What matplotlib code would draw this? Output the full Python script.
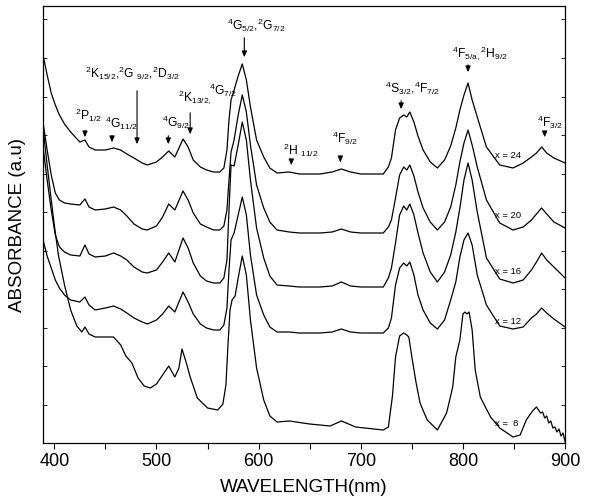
import matplotlib
matplotlib.use("Agg")
import matplotlib.pyplot as plt
from matplotlib.ticker import MultipleLocator

plt.rcParams["font.family"] = ["Liberation Sans", "DejaVu Sans"]
plt.rcParams["mathtext.fontset"] = "custom"
plt.rcParams["mathtext.rm"] = "Liberation Sans"
plt.rcParams["mathtext.it"] = "Liberation Sans"

# wavelength grid (nm) shared by x = 24, 20, 16, 12
wl = [389, 393, 397, 401, 405, 410, 416, 425, 430, 434, 440, 450, 458, 465, 471, 478, 486, 491, 500, 506,
      512, 518, 526, 531, 536, 543, 549, 556, 562, 566, 569, 571, 573, 576, 580, 584, 588, 592, 598, 605,
      611, 618, 630, 640, 660, 672, 681, 690, 700, 722, 727, 730, 734, 738, 742, 745, 748, 752, 756, 761,
      768, 775, 782, 788, 793, 797, 801, 805, 809, 814, 823, 836, 849, 859, 867, 872, 877, 882, 889, 900]

abs_24 = [3.88, 3.68, 3.50, 3.38, 3.28, 3.19, 3.11, 3.01, 3.03, 2.96, 2.93, 2.93, 2.95, 2.93, 2.89, 2.85, 2.80, 2.78, 2.81, 2.86,
          2.92, 2.86, 3.04, 2.96, 2.83, 2.76, 2.73, 2.71, 2.71, 2.75, 2.93, 3.23, 3.43, 3.53, 3.67, 3.79, 3.63, 3.36, 3.03, 2.86,
          2.75, 2.70, 2.71, 2.69, 2.69, 2.71, 2.74, 2.71, 2.69, 2.69, 2.76, 2.85, 3.13, 3.25, 3.28, 3.26, 3.31, 3.21, 3.07, 2.93,
          2.81, 2.75, 2.83, 2.97, 3.15, 3.33, 3.48, 3.60, 3.43, 3.26, 2.96, 2.78, 2.75, 2.80, 2.86, 2.90, 2.96, 2.90, 2.85, 2.80]
abs_20 = [3.20, 2.93, 2.68, 2.50, 2.43, 2.40, 2.39, 2.38, 2.44, 2.36, 2.33, 2.34, 2.36, 2.33, 2.27, 2.19, 2.14, 2.13, 2.17, 2.26,
          2.39, 2.33, 2.52, 2.43, 2.30, 2.19, 2.16, 2.13, 2.13, 2.17, 2.33, 2.63, 2.91, 3.03, 3.28, 3.48, 3.31, 2.98, 2.58, 2.35,
          2.21, 2.13, 2.11, 2.10, 2.10, 2.11, 2.14, 2.11, 2.10, 2.10, 2.16, 2.23, 2.45, 2.68, 2.76, 2.73, 2.78, 2.67, 2.51, 2.35,
          2.21, 2.13, 2.21, 2.36, 2.58, 2.81, 3.00, 3.13, 2.98, 2.76, 2.43, 2.20, 2.13, 2.16, 2.23, 2.29, 2.35, 2.29, 2.21, 2.15]
abs_16 = [2.96, 2.63, 2.33, 2.08, 1.96, 1.91, 1.88, 1.87, 1.98, 1.89, 1.86, 1.87, 1.90, 1.87, 1.83, 1.76, 1.71, 1.70, 1.73, 1.81,
          1.90, 1.81, 2.05, 1.95, 1.80, 1.67, 1.62, 1.60, 1.60, 1.65, 1.83, 2.33, 2.78, 2.77, 2.98, 3.21, 3.03, 2.63, 2.15, 1.85,
          1.67, 1.58, 1.57, 1.56, 1.56, 1.57, 1.61, 1.57, 1.56, 1.56, 1.65, 1.75, 2.00, 2.28, 2.37, 2.33, 2.39, 2.28, 2.10, 1.90,
          1.71, 1.61, 1.71, 1.88, 2.11, 2.35, 2.63, 2.80, 2.63, 2.31, 1.85, 1.64, 1.60, 1.63, 1.73, 1.81, 1.90, 1.83, 1.76, 1.65]
abs_12 = [2.03, 1.87, 1.75, 1.63, 1.55, 1.48, 1.43, 1.41, 1.46, 1.38, 1.33, 1.35, 1.37, 1.34, 1.30, 1.25, 1.21, 1.19, 1.23, 1.29,
          1.37, 1.31, 1.51, 1.41, 1.29, 1.19, 1.15, 1.13, 1.13, 1.18, 1.35, 1.73, 2.03, 2.10, 2.28, 2.46, 2.28, 1.88, 1.48, 1.28,
          1.16, 1.11, 1.11, 1.10, 1.10, 1.11, 1.14, 1.11, 1.10, 1.10, 1.15, 1.25, 1.58, 1.75, 1.80, 1.77, 1.81, 1.68, 1.48, 1.33,
          1.20, 1.14, 1.23, 1.43, 1.61, 1.86, 2.03, 2.10, 1.98, 1.68, 1.38, 1.17, 1.14, 1.16, 1.25, 1.29, 1.35, 1.30, 1.24, 1.16]

# x = 8 has its own grid (split 4F5/2 top, noisy tail)
wl_8 = [389, 393, 397, 400, 404, 410, 416, 422, 427, 430, 434, 440, 450, 458, 465, 470, 476, 482, 488, 494,
        500, 504, 508, 512, 518, 522, 525, 529, 533, 540, 550, 560, 565, 568, 570, 572, 574, 577, 580, 584,
        588, 592, 598, 605, 611, 618, 630, 650, 670, 681, 695, 722, 727, 731, 734, 738, 742, 745, 747, 750,
        754, 758, 765, 775, 784, 790, 793, 797, 800, 802, 804, 806, 809, 812, 817, 827, 836, 849, 856, 862,
        866, 869, 872, 874, 876, 878, 880, 882, 884, 886, 888, 890, 892, 894, 896, 898, 900]
abs_8 = [3.15, 2.78, 2.43, 2.18, 1.88, 1.58, 1.33, 1.17, 1.11, 1.16, 1.09, 1.06, 1.06, 1.06, 0.98, 0.87, 0.80, 0.65, 0.57, 0.55,
         0.59, 0.65, 0.71, 0.77, 0.66, 0.75, 0.94, 0.81, 0.66, 0.45, 0.35, 0.33, 0.39, 0.58, 0.98, 1.33, 1.43, 1.47, 1.65, 1.87,
         1.68, 1.23, 0.75, 0.43, 0.27, 0.21, 0.22, 0.19, 0.17, 0.22, 0.16, 0.13, 0.16, 0.47, 0.86, 1.07, 1.10, 1.08, 1.06, 0.86,
         0.61, 0.40, 0.23, 0.13, 0.30, 0.56, 0.86, 1.03, 1.29, 1.31, 1.29, 1.31, 1.13, 0.73, 0.46, 0.26, 0.15, 0.06, 0.08, 0.23,
         0.29, 0.33, 0.36, 0.33, 0.30, 0.31, 0.25, 0.27, 0.20, 0.22, 0.15, 0.16, 0.11, 0.14, 0.07, 0.10, 0.01]

series = [(wl, abs_24), (wl, abs_20), (wl, abs_16), (wl, abs_12), (wl_8, abs_8)]
curve_labels = ["x = 24", "x = 20", "x = 16", "x = 12", "x =  8"]
label_pos = [(844, 2.88), (844, 2.27), (844, 1.72), (844, 1.22), (843, 0.20)]

# transition labels: text, text position, arrow wavelength, arrow top, arrow tip
bands = [
    (r"$^{2}$P$_{1/2}$", (420, 3.28), 430, 3.15, 3.03),
    (r"$^{4}$G$_{11/2}$", (450, 3.20), 456.5, 3.10, 2.98),
    (r"$^{2}$K$_{15/2}$,$^{2}$G $_{9/2}$,$^{2}$D$_{3/2}$", (430, 3.70), 481, 3.55, 2.96),
    (r"$^{4}$G$_{9/2}$", (505.5, 3.21), 511.6, 3.10, 2.96),
    (r"$^{2}$K$_{13/2,}$", (521, 3.46), 533, 3.33, 3.06),
    (r"$^{4}$G$_{5/2}$,$^{2}$G$_{7/2}$", (569, 4.18), 586, 4.08, 3.83),
    (r"$^{2}$H $_{11/2}$", (624, 2.93), 632, 2.85, 2.75),
    (r"$^{4}$F$_{9/2}$", (672, 3.05), 680, 2.86, 2.78),
    (r"$^{4}$S$_{3/2}$,$^{4}$F$_{7/2}$", (724, 3.55), 739.5, 3.45, 3.31),
    (r"$^{4}$F$_{5/a,}$$^{2}$H$_{9/2}$", (789.5, 3.90), 805, 3.81, 3.68),
    (r"$^{4}$F$_{3/2}$", (872.5, 3.21), 880, 3.13, 3.03),
]

fig = plt.figure(figsize=(5.98, 5.0), dpi=100)
ax = fig.add_axes([0.072, 0.114, 0.873, 0.874])

for (x, y) in series:
    ax.plot(x, y, color="black", lw=0.9)

for txt, (tx, ty) in zip(curve_labels, label_pos):
    ax.text(tx, ty, txt, fontsize=6.8, ha="center", va="center")

for txt, (tx, ty), ax_x, y0, y1 in bands:
    ax.text(tx, ty, txt, fontsize=8.7, ha="left", va="center")
    ax.annotate("", xy=(ax_x, y1), xytext=(ax_x, y0),
                arrowprops=dict(arrowstyle="-|>,head_width=0.15,head_length=0.35", color="black", lw=0.8))
ax.text(551, 3.53, r"$^{4}$G$_{7/2}$", fontsize=8.7, ha="left", va="center")

ax.set_xlim(389, 900)
ax.set_ylim(0, 4.37)
ax.xaxis.set_major_locator(MultipleLocator(100))
ax.xaxis.set_minor_locator(MultipleLocator(50))
ax.yaxis.set_major_locator(MultipleLocator(0.385))
ax.tick_params(axis="x", which="both", direction="out", length=4, width=0.8, labelsize=13, pad=3)
ax.tick_params(axis="y", which="both", direction="in", length=3, width=0.6, left=True, right=True, labelleft=False)
ax.set_xlabel("WAVELENGTH(nm)", fontsize=13.5, labelpad=7)
ax.set_ylabel("ABSORBANCE (a.u)", fontsize=13.5, labelpad=12)
for s in ax.spines.values():
    s.set_linewidth(0.9)

fig.savefig("out.png", dpi=100)
